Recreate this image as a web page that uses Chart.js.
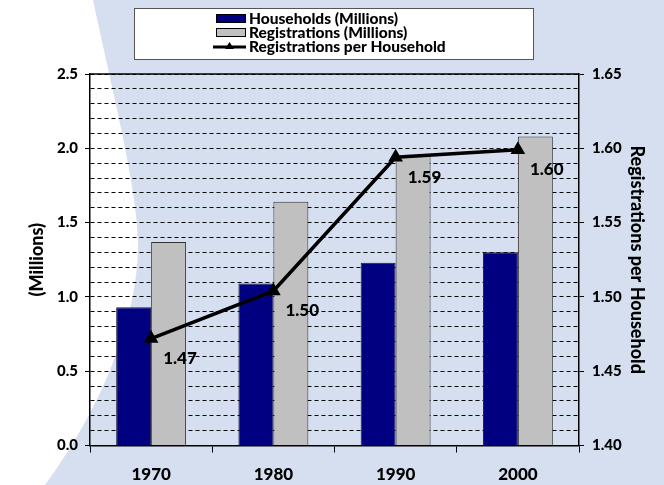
<!DOCTYPE html>
<html>
<head>
<meta charset="utf-8">
<script src="https://cdn.jsdelivr.net/npm/chart.js@4.4.0/dist/chart.umd.min.js"></script>
<style>
  body { margin: 0; background: #d5dff0; }
  #wrap { width: 664px; height: 485px; }
</style>
</head>
<body>
<div id="wrap"><canvas id="chart" width="664" height="485"></canvas></div>
<script>
// chart values
const years = ['1970', '1980', '1990', '2000'];
const households = [0.93, 1.09, 1.23, 1.30];
const registrations = [1.37, 1.64, 1.95, 2.08];
const perHousehold = [1.472, 1.504, 1.594, 1.599];

const leftTicks = { min: 0, max: 2.5, step: 0.1 };
const rightTicks = { min: 1.40, max: 1.65, step: 0.05 };

const FONT = 'Lato, "DejaVu Sans", sans-serif';
Chart.defaults.font.family = FONT;
Chart.defaults.font.weight = 900;
Chart.defaults.color = '#000';

// light blue backdrop with the white swoosh on the left
const backdrop = {
    id: 'backdrop',
    beforeDraw(chart) {
        const ctx = chart.ctx;
        ctx.save();
        ctx.fillStyle = '#d5dff0';
        ctx.fillRect(0, 0, chart.width, chart.height);
        ctx.fillStyle = '#ffffff';
        ctx.beginPath();
        ctx.moveTo(0, 0);
        ctx.lineTo(93, 0);
        ctx.bezierCurveTo(112, 90, 138, 190, 138, 245);
        ctx.bezierCurveTo(138, 320, 100, 410, 45, 485);
        ctx.lineTo(0, 485);
        ctx.closePath();
        ctx.fill();
        ctx.restore();
    },
    beforeDatasetsDraw(chart) {
        // solid top edge of the plot
        const a = chart.chartArea, ctx = chart.ctx;
        ctx.save();
        ctx.strokeStyle = '#000';
        ctx.lineWidth = 1.5;
        ctx.beginPath();
        ctx.moveTo(a.left, a.top);
        ctx.lineTo(a.right, a.top);
        ctx.stroke();
        ctx.restore();
    }
};

// value labels under the line points + boxed legend
const extras = {
    id: 'extras',
    afterDraw(chart) {
        const ctx = chart.ctx;
        ctx.save();
        const meta = chart.getDatasetMeta(2);
        ctx.font = '900 17px ' + FONT;
        ctx.fillStyle = '#000';
        ctx.textAlign = 'left';
        ctx.textBaseline = 'middle';
        meta.data.forEach(function(pt, i) {
            ctx.fillText(perHousehold[i].toFixed(2), pt.x + 12, pt.y + 20);
        });

        // legend
        ctx.fillStyle = '#fff';
        ctx.fillRect(134.5, 8.5, 399, 51);
        ctx.strokeStyle = '#555';
        ctx.lineWidth = 1;
        ctx.strokeRect(134.5, 8.5, 399, 51);
        ctx.font = '900 15.5px ' + FONT;
        chart.data.datasets.forEach(function(ds, i) {
            const y = 19 + i * 14;
            if (ds.type === 'line') {
                ctx.strokeStyle = '#000';
                ctx.lineWidth = 3;
                ctx.beginPath();
                ctx.moveTo(213, y);
                ctx.lineTo(246, y);
                ctx.stroke();
                ctx.fillStyle = '#000';
                ctx.beginPath();
                ctx.moveTo(229.5, y - 5);
                ctx.lineTo(234, y + 2);
                ctx.lineTo(225, y + 2);
                ctx.closePath();
                ctx.fill();
            } else {
                ctx.fillStyle = ds.backgroundColor;
                ctx.fillRect(216.5, y - 4.5, 29, 8);
                ctx.strokeStyle = '#000';
                ctx.strokeRect(216.5, y - 4.5, 29, 8);
            }
            ctx.fillStyle = '#000';
            ctx.fillText(ds.label, 249, y);
        });
        ctx.restore();
    }
};

function isMajor(v, step) {
    return Math.abs(v / step - Math.round(v / step)) < 1e-6;
}

new Chart(document.getElementById('chart'), {
    data: {
        labels: years,
        datasets: [
            {
                type: 'bar',
                label: 'Households (Millions)',
                data: households,
                backgroundColor: '#000080',
                borderColor: '#1a1a3a',
                borderWidth: 1,
                yAxisID: 'y',
                order: 1
            },
            {
                type: 'bar',
                label: 'Registrations (Millions)',
                data: registrations,
                backgroundColor: '#c0c0c0',
                borderColor: '#333',
                borderWidth: 1,
                yAxisID: 'y',
                order: 2
            },
            {
                type: 'line',
                label: 'Registrations per Household',
                data: perHousehold,
                borderColor: '#000',
                backgroundColor: '#000',
                borderWidth: 3.5,
                pointStyle: 'triangle',
                pointRadius: 5,
                tension: 0,
                yAxisID: 'y1',
                order: 0
            }
        ]
    },
    options: {
        responsive: false,
        animation: false,
        devicePixelRatio: 1,
        layout: {
            padding: { top: 74, left: 0, right: 0, bottom: 0 }
        },
        datasets: {
            bar: {
                categoryPercentage: 0.572,
                barPercentage: 1.0
            }
        },
        plugins: {
            legend: { display: false },
            tooltip: { enabled: false }
        },
        scales: {
            x: {
                afterFit: function(scale) { scale.height = 39.5; },
                ticks: {
                    font: { size: 17, weight: 900 },
                    padding: 12
                },
                grid: {
                    drawOnChartArea: false,
                    tickLength: 7,
                    color: '#000'
                },
                border: { color: '#000', width: 1.5 }
            },
            y: {
                position: 'left',
                min: leftTicks.min,
                max: leftTicks.max,
                afterFit: function(scale) { scale.width = 90; },
                ticks: {
                    stepSize: leftTicks.step,
                    autoSkip: false,
                    padding: 7,
                    font: { size: 15, weight: 900 },
                    callback: function(v) {
                        return isMajor(v, 0.5) ? v.toFixed(1) : '';
                    }
                },
                grid: {
                    color: '#000',
                    lineWidth: 1,
                    tickLength: 5,
                    tickColor: function(c) {
                        return c.tick && isMajor(c.tick.value, 0.5) ? '#000' : 'rgba(0,0,0,0)';
                    }
                },
                border: { color: '#000', width: 1.5, dash: [4, 3] },
                title: {
                    display: true,
                    text: '(Millions)',
                    font: { size: 18, weight: 900 },
                    padding: { top: 26 }
                }
            },
            y1: {
                position: 'right',
                min: rightTicks.min,
                max: rightTicks.max,
                afterFit: function(scale) { scale.width = 85; },
                ticks: {
                    stepSize: rightTicks.step,
                    padding: 8,
                    font: { size: 15, weight: 900 },
                    callback: function(v) { return v.toFixed(2); }
                },
                grid: {
                    drawOnChartArea: false,
                    tickLength: 5,
                    color: '#000'
                },
                border: { color: '#000', width: 1.5 },
                title: {
                    display: true,
                    text: 'Registrations per Household',
                    font: { size: 18, weight: 900 },
                    padding: { top: 16 }
                }
            }
        }
    },
    plugins: [backdrop, extras]
});
</script>
</body>
</html>
